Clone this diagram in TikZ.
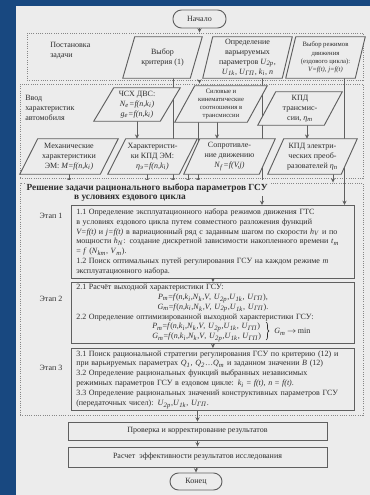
\documentclass[tikz,border=0pt]{standalone}
\usepackage{fontspec}
\setmainfont{Liberation Serif}
\usetikzlibrary{arrows.meta,calc,decorations.pathreplacing}
\definecolor{bluebg}{RGB}{24,72,128}
\definecolor{pagec}{RGB}{236,236,236}
\definecolor{lnc}{RGB}{95,95,95}
\definecolor{txtc}{RGB}{45,45,45}
\pgfdeclarelayer{bg}
\pgfdeclarelayer{lines}
\pgfdeclarelayer{shapes}
\pgfsetlayers{bg,lines,shapes,main}
\newcommand\vr[2]{\textit{#1}\textsubscript{\textit{#2}}}
\newcommand\jline[1]{\makebox[\linewidth][s]{#1}}
\newcommand\px[1]{#1*0.75pt}
\newcommand\mkrect[7]{\node[#6,minimum width={(#4-#2)*0.75pt},minimum height={(#5-#3)*0.75pt}] (#1) at ({(#2+#4)/2},{(#3+#5)/2}) {#7};}
\newcommand\mkpara[8]{%
  \node[ptxt,#7,minimum width={(#4-#2)*0.75pt},minimum height={(#5-#3)*0.75pt}] (#1) at ({(#2+#4)/2},{(#3+#5)/2}) {#8};
  \begin{pgfonlayer}{shapes}
  \filldraw[pshape] ([xshift={#6*0.75pt}]#1.north west) -- (#1.north east) -- ([xshift={-#6*0.75pt}]#1.south east) -- (#1.south west) -- cycle;
  \end{pgfonlayer}}
\newcommand\fPm{\vr{P}{m}=\textit{f}(\textit{n},\vr{k}{i},\vr{N}{k},\textit{V}, \vr{U}{2p},\vr{U}{1k}, \vr{U}{ГП})}
\newcommand\fGm{\vr{G}{m}=\textit{f}(\textit{n},\vr{k}{i},\vr{N}{k},\textit{V}, \vr{U}{2p},\vr{U}{1k}, \vr{U}{ГП})}
\tikzset{
  base/.style={font=\fontsize{6}{7.4}\selectfont, text=txtc, inner sep=0pt},
  smalltxt/.style={font=\fontsize{5}{6.1}\selectfont},
  ptxt/.style={base, align=center},
  pshape/.style={draw=lnc, line width=0.7pt, fill=pagec},
  shp/.style={base, draw=lnc, line width=0.7pt, fill=pagec, align=center},
  stad/.style={shp, rounded corners=6.4pt},
  sect/.style={draw=lnc!75, densely dotted, line width=0.7pt},
  arr/.style={draw=lnc, line width=0.55pt, -{Stealth[length=3.2pt,width=3pt]}},
  lbl/.style={base, align=left},
  ttl/.style={base, font=\fontsize{7}{8.4}\selectfont\bfseries, fill=pagec, inner ysep=2.5pt, inner xsep=1pt},
  tbox/.style={shp, align=left, text width=205pt, inner xsep=3.6pt, anchor=north west},
  bracestyle/.style={draw=txtc, line width=0.5pt, decorate, decoration={brace, amplitude=2.2pt}},
}
\begin{document}
\begin{tikzpicture}[x=0.75pt,y=-0.75pt]
\useasboundingbox (0,0) rectangle (370,495);
\begin{pgfonlayer}{bg}
\fill[bluebg] (0,0) rectangle (370,495);
\fill[pagec] (16,6) rectangle (370,495);
\end{pgfonlayer}

% section frames
\begin{pgfonlayer}{lines}
\mkrect{s1}{27}{33}{363}{80}{sect}{}
\mkrect{s2}{20}{84}{363}{178}{sect}{}
\mkrect{s3}{20}{183}{363}{415}{sect}{}
\end{pgfonlayer}

% start
\mkrect{start}{173}{10}{226}{28}{stad}{Начало}

% section 1
\node[lbl, anchor=west] (lab1) at (50,51) {Постановка\\задачи};
\mkpara{p1}{123}{37}{202}{78}{12}{}{Выбор\\критерия (1)}
\mkpara{p2}{203}{37}{292}{78}{10}{}{Определение\\варьируемых\\параметров \vr{U}{2p},\\\vr{U}{1k}, \vr{U}{ГП}, \vr{k}{i}, \textit{n}}
\mkpara{p3}{286}{37}{365}{78}{10}{smalltxt}{Выбор режимов\\движения\\(ездового цикла):\\\textit{V=f(t)}, \textit{j=f(t)}}

% section 2
\node[lbl, anchor=west] (lab2) at (25,108) {Ввод\\характеристик\\автомобиля};
\mkpara{q1}{94}{88}{180}{121}{20}{}{ЧСХ ДВС:\\\vr{N}{e}\textit{=f(n,k}\textsubscript{\textit{i}}\textit{)}\\\vr{g}{e}\textit{=f(n,k}\textsubscript{\textit{i}}\textit{)}}
\mkpara{q2}{175}{86}{267}{122}{20}{smalltxt}{Силовые и\\кинематические\\соотношения в\\трансмиссии}
\mkpara{q3}{258}{92}{342}{125}{18}{}{КПД\\трансмис-\\сии, \vr{η}{т}}
\mkpara{r1}{20}{139}{118}{174}{18}{}{Механические\\характеристики\\ЭМ: \textit{M=f(n,k}\textsubscript{\textit{i}}\textit{)}}
\mkpara{r2}{108}{139}{197}{174}{18}{}{Характеристи-\\ки КПД ЭМ:\\\vr{η}{э}\textit{=f(n,k}\textsubscript{\textit{i}}\textit{)}}
\mkpara{r3}{184}{139}{275}{174}{16}{}{Сопротивле-\\ние движению\\\vr{N}{f}\textit{=f(V,j)}}
\mkpara{r4}{268}{139}{357}{174}{16}{}{КПД электри-\\ческих преоб-\\разователей \vr{η}{п}}

% section 3
\node[ttl, anchor=west] (t1) at (25,188) {Решение задачи рационального выбора параметров ГСУ};
\node[ttl] (t2) at (130,198) {в условиях ездового цикла};
\node[base] (e1) at (51,216) {Этап 1};
\node[base] (e2) at (51,299) {Этап 2};
\node[base] (e3) at (51,368) {Этап 3};

\node[tbox, minimum height={\px{73}}] (b1) at (71,205) {%
1.1 Определение эксплуатационного набора режимов движения ГТС\\
в условиях ездового цикла путем совместного разложения функций\\
\jline{\textit{V=f(t)} и \textit{j=f(t)} в вариационный ряд с заданным шагом по скорости \vr{h}{V} и по}\\
\jline{мощности \vr{h}{N}: создание дискретной зависимости накопленного времени \vr{t}{m}}\\
= \textit{f} (\vr{N}{km}, \vr{V}{m}).\\
\jline{1.2 Поиск оптимальных путей регулирования ГСУ на каждом режиме \textit{m}}\\
эксплуатационного набора.};

\node[tbox, minimum height={\px{61}}] (b2) at (71,282) {%
2.1 Расчёт выходной характеристики ГСУ:\\
\makebox[\linewidth]{\fPm,}\\
\makebox[\linewidth]{\fGm.}\\
2.2 Определение оптимизированной выходной характеристики ГСУ:\\
\hspace*{57pt}\fPm\\
\hspace*{57pt}\fGm};
\coordinate (brtop) at (266,322);
\coordinate (brbot) at (266,340);
\draw[bracestyle] (brtop) -- (brbot);
\node[base, anchor=west] (gmin) at (274,332) {\vr{G}{m}\,$\rightarrow$\,min};

\node[tbox, minimum height={\px{62}}] (b3) at (71,348) {%
\jline{3.1 Поиск рациональной стратегии регулирования ГСУ по критерию (12) и}\\
при варьируемых параметрах \vr{Q}{1}, \vr{Q}{2}…\vr{Q}{m} и заданном значении \textit{B} (12)\\
\jline{3.2 Определение рациональных функций выбранных независимых}\\
режимных параметров ГСУ в ездовом цикле: \vr{k}{i} = \textit{f(t)}, \textit{n} = \textit{f(t)}.\\
\jline{3.3 Определение рациональных значений конструктивных параметров ГСУ}\\
(передаточных чисел): \vr{U}{2p},\vr{U}{1k}, \vr{U}{ГП}.};

% bottom
\mkrect{chk}{68}{422}{327}{440}{shp}{Проверка и корректирование результатов}
\mkrect{eff}{68}{447}{327}{467}{shp}{Расчет \ эффективности результатов исследования}
\mkrect{fin}{170}{473}{222}{490}{stad}{Конец}

% connectors
\begin{pgfonlayer}{lines}
\draw[arr] (start.south) -- (start.south |- s1.north);
\draw[arr] (s1.south -| start.south) -- (s2.north -| start.south);
\draw[arr] ([xshift=\px{10.5}]p1.south) -- ([xshift=\px{10.5}]p1.south |- s3.north);
\draw[arr] ([xshift=\px{14.5}]p2.south) -- ([xshift=\px{14.5}]p2.south |- b1.north);
\draw[arr] ([xshift=\px{19}]p3.south) -- ([xshift=\px{19}]p3.south |- b1.north);
\draw[arr] (q1.south) -- (q1.south |- r2.north);
\draw[arr] ([xshift=\px{-23}]q2.south) -- ([xshift=\px{-23}]q2.south |- s3.north);
\draw[arr] ([xshift=\px{-4}]q2.south) -- ([xshift=\px{-4}]q2.south |- r3.north);
\draw[arr] ([xshift=\px{7}]q3.south) -- ([xshift=\px{7}]q3.south |- r4.north);
\draw[arr] (r1.south) -- (r1.south |- s3.north);
\draw[arr] ([xshift=\px{-5.5}]r2.south) -- ([xshift=\px{-5.5}]r2.south |- s3.north);
\draw[arr] ([xshift=\px{-41.5}]r3.south) -- ([xshift=\px{-41.5}]r3.south |- s3.north);
\draw[arr] ([xshift=\px{20.5}]r4.south) -- ([xshift=\px{20.5}]r4.south |- s3.north);
\draw[arr] (b1.south) -- (b2.north);
\draw[arr] (b2.south) -- (b3.north);
\draw[arr] (b3.south -| chk.north) -- (chk.north);
\draw[arr] (chk.south) -- (eff.north);
\draw[arr] (eff.south -| fin.north) -- (fin.north);
\end{pgfonlayer}
\end{tikzpicture}
\end{document}
